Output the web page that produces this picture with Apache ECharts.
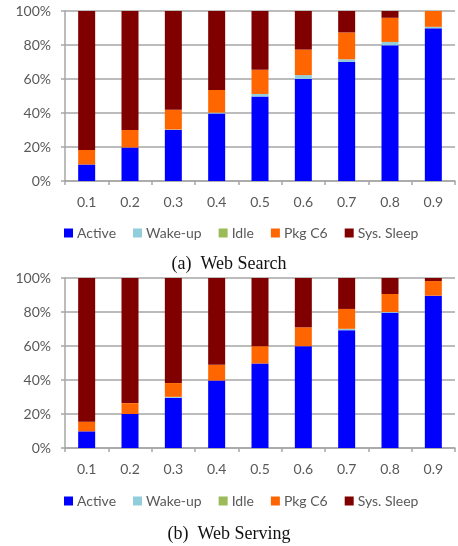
<!DOCTYPE html>
<html>
<head>
<meta charset="utf-8">
<script src="https://cdn.jsdelivr.net/npm/echarts@6/dist/echarts.min.js"></script>
<style>
  html, body { margin: 0; padding: 0; background: #fff; }
  #container { width: 458px; height: 546px; }
</style>
</head>
<body>
<div id="container"></div>
<script>
// x categories (load)
var loads = ['0.1', '0.2', '0.3', '0.4', '0.5', '0.6', '0.7', '0.8', '0.9'];
var stateNames = ['Active', 'Wake-up', 'Idle', 'Pkg C6', 'Sys. Sleep'];
var stateColors = ['#0000ff', '#92cddc', '#9bbb59', '#ff6600', '#800000'];

// (a) Web Search, percent of time
var searchActive = [9.7, 19.7, 30, 39.7, 49.7, 60, 70, 79.8, 89.8];
var searchWakeup = [0, 0, 0.3, 0.5, 1.5, 2.3, 1.6, 2.0, 0.9];
var searchIdle = [0, 0, 0, 0, 0, 0, 0, 0, 0];
var searchPkgC6 = [8.6, 10.3, 11.6, 13.4, 14.2, 15.0, 15.8, 14.2, 9.3];
var searchSleep = [81.7, 70, 58.1, 46.4, 34.6, 22.7, 12.6, 4.0, 0];

// (b) Web Serving
var servingActive = [9.8, 20, 29.5, 39.7, 49.7, 59.9, 69.3, 79.6, 89.6];
var servingWakeup = [0, 0, 0.6, 0, 0, 0, 0.8, 0.4, 0];
var servingIdle = [0, 0, 0, 0, 0, 0, 0, 0, 0];
var servingPkgC6 = [5.7, 6.4, 8.1, 9.2, 10.2, 11.1, 11.7, 10.6, 8.6];
var servingSleep = [84.5, 73.6, 61.8, 51.1, 40.1, 29, 18.2, 9.4, 1.8];

var searchData = [searchActive, searchWakeup, searchIdle, searchPkgC6, searchSleep];
var servingData = [servingActive, servingWakeup, servingIdle, servingPkgC6, servingSleep];

var labelFont = 'Lato';
var axisGray = '#a6a6a6';
var textGray = '#595959';

var dom = document.getElementById('container');
var myChart = echarts.init(dom, null, { renderer: 'canvas' });

function makeXAxis(idx) {
  return {
    type: 'category',
    gridIndex: idx,
    data: loads,
    axisLine: { show: true, lineStyle: { color: axisGray, width: 1.5 } },
    axisTick: { show: true, length: 4, lineStyle: { color: axisGray, width: 1.5 } },
    axisLabel: { color: textGray, fontFamily: labelFont, fontSize: 14, margin: 14 }
  };
}

function makeYAxis(idx) {
  return {
    type: 'value',
    gridIndex: idx,
    min: 0,
    max: 100,
    interval: 20,
    axisLine: { show: true, lineStyle: { color: axisGray, width: 1.5 } },
    axisTick: { show: true, length: 4, lineStyle: { color: axisGray, width: 1.5 } },
    splitLine: { show: true, lineStyle: { color: axisGray, width: 1.5 } },
    axisLabel: {
      color: textGray, fontFamily: labelFont, fontSize: 14, margin: 14,
      formatter: function (v) { return v + '%'; }
    }
  };
}

function makeSeries(dataSets, idx) {
  return stateNames.map(function (name, i) {
    return {
      name: name,
      type: 'bar',
      stack: 'total' + idx,
      xAxisIndex: idx,
      yAxisIndex: idx,
      barWidth: 17,
      data: dataSets[i],
      itemStyle: { color: stateColors[i] },
      emphasis: { disabled: true }
    };
  });
}

function makeLegend(top) {
  return {
    top: top,
    left: 59,
    itemWidth: 9,
    itemHeight: 9,
    itemGap: 17,
    icon: 'rect',
    data: stateNames,
    textStyle: { color: textGray, fontFamily: labelFont, fontSize: 14, padding: [0, 0, 0, -1] }
  };
}

var option = {
  animation: false,
  color: stateColors,
  grid: [
    { left: 65, right: 3, top: 11, height: 170 },
    { left: 65, right: 3, top: 278, height: 170 }
  ],
  xAxis: [makeXAxis(0), makeXAxis(1)],
  yAxis: [makeYAxis(0), makeYAxis(1)],
  legend: [makeLegend(221), makeLegend(489)],
  title: [
    {
      text: '(a)  Web Search', left: 'center', top: 250,
      textStyle: { fontFamily: 'Liberation Serif', fontSize: 18, fontWeight: 'normal', color: '#111' }
    },
    {
      text: '(b)  Web Serving', left: 'center', top: 520,
      textStyle: { fontFamily: 'Liberation Serif', fontSize: 18, fontWeight: 'normal', color: '#111' }
    }
  ],
  series: makeSeries(searchData, 0).concat(makeSeries(servingData, 1))
};

myChart.setOption(option);
</script>
</body>
</html>
